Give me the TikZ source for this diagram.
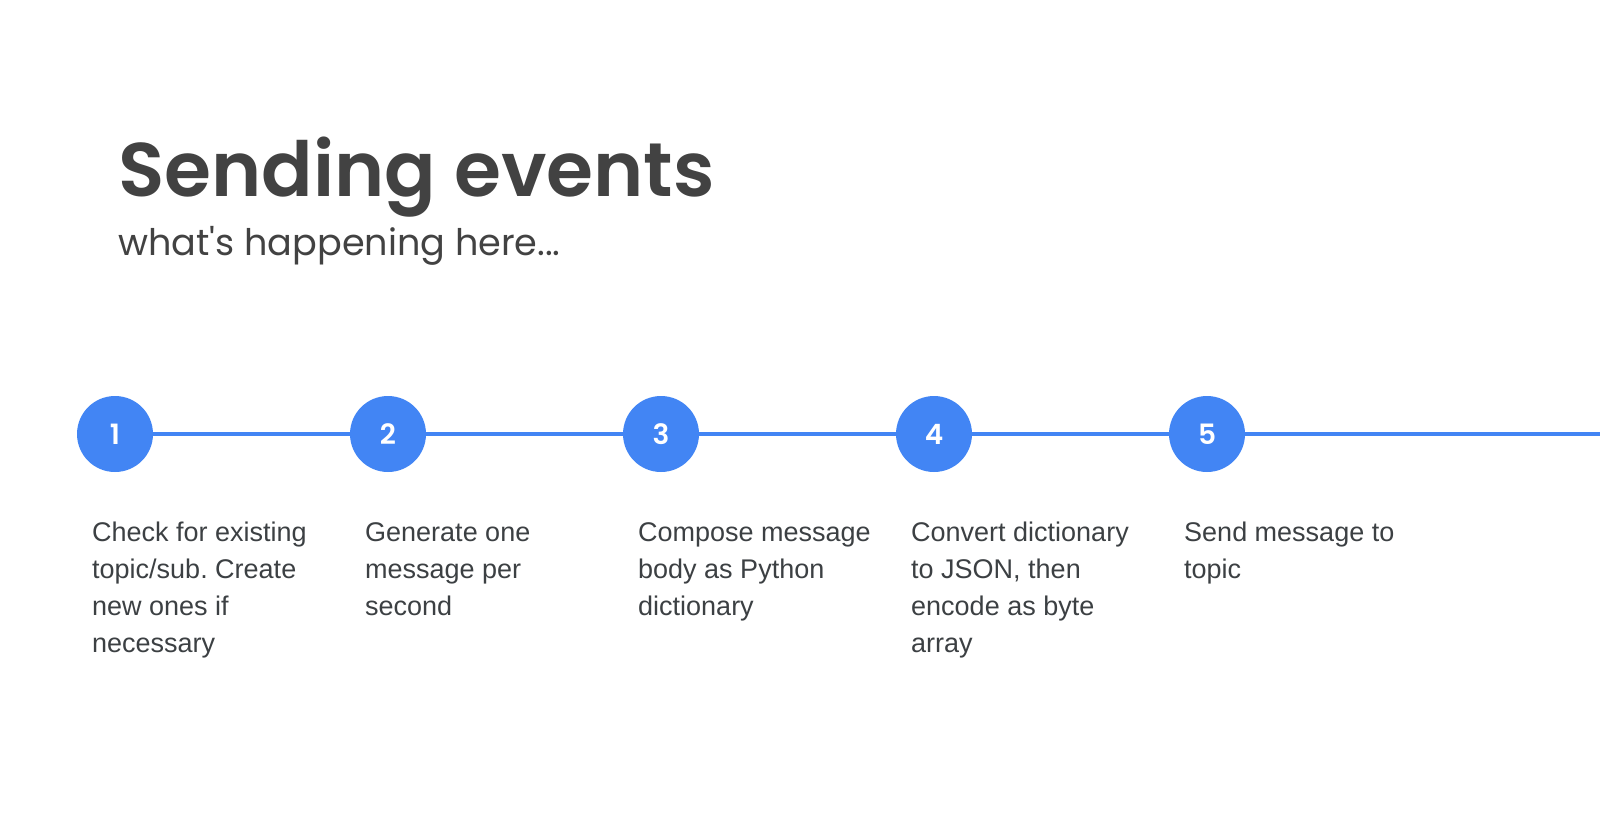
\documentclass[tikz,border=0pt]{standalone}
\usepackage{fontspec}
\setmainfont{Liberation Sans}
\newfontfamily\titlefont{Poppins}
\newfontfamily\titleheavy{Poppins SemiBold}
\usetikzlibrary{positioning}
\frenchspacing

\definecolor{stepblue}{HTML}{4285F4}
\definecolor{titlegray}{HTML}{424242}
\definecolor{bodygray}{HTML}{3C4043}

\tikzset{
  stepdot/.style={circle, fill=stepblue, draw=none, minimum size=76pt, inner sep=0pt,
    text=white, font=\titleheavy\fontsize{28}{30}\selectfont},
  stepline/.style={draw=stepblue, line width=4pt},
  % the strut fixes the first baseline 25.9pt below the node's top
  steptext/.style={anchor=north west, inner sep=0pt, align=left, text=bodygray,
    font=\fontsize{27}{37}\selectfont},
}

\begin{document}
\begin{tikzpicture}[x=1pt, y=-1pt]
  \useasboundingbox (0,0) rectangle (1600,812);

  % heading
  \node[anchor=base west, inner sep=0pt, text=titlegray,
        font=\titleheavy\fontsize{76}{80}\selectfont] (title) at (118,196) {Sending events};
  \node[anchor=base west, inner sep=0pt, text=titlegray,
        font=\titlefont\fontsize{36.6}{44}\selectfont] (subtitle) at (118,255) {what\textquotesingle s happening here...};

  % timeline dots
  \node[stepdot] (c1) at (115,434) {1};
  \node[stepdot] (c2) at (388,434) {2};
  \node[stepdot] (c3) at (661,434) {3};
  \node[stepdot] (c4) at (934,434) {4};
  \node[stepdot] (c5) at (1207,434) {5};
  \coordinate (tail) at (1600,434);

  % connecting line
  \draw[stepline] (c1) -- (c2);
  \draw[stepline] (c2) -- (c3);
  \draw[stepline] (c3) -- (c4);
  \draw[stepline] (c4) -- (c5);
  \draw[stepline] (c5) -- (tail);

  % step descriptions
  \node[steptext] (t1) at (92,515) {\strut Check for existing\\topic/sub. Create\\new ones if\\necessary};
  \node[steptext] (t2) at (365,515) {\strut Generate one\\message per\\second};
  \node[steptext] (t3) at (638,515) {\strut Compose message\\body as Python\\dictionary};
  \node[steptext] (t4) at (911,515) {\strut Convert dictionary\\to JSON, then\\encode as byte\\array};
  \node[steptext] (t5) at (1184,515) {\strut Send message to\\topic};
\end{tikzpicture}
\end{document}
